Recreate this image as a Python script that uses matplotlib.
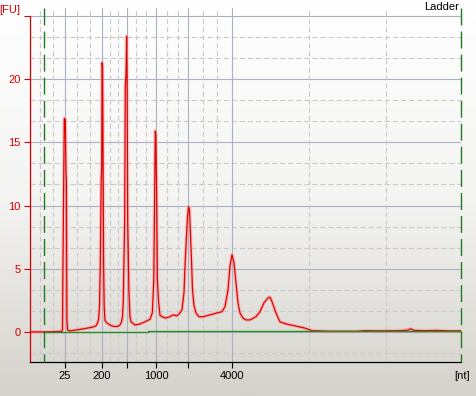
import numpy as np
import matplotlib.pyplot as plt
from matplotlib.colors import LinearSegmentedColormap

plt.rcParams['font.family'] = ['Liberation Sans', 'DejaVu Sans']
plt.rcParams['font.size'] = 8
plt.rcParams['lines.scale_dashes'] = False

# Electropherogram trace: migration time (s) vs fluorescence (FU)
time_s = [19.000, 20.680, 21.955, 22.766, 22.824, 22.882, 23.032, 23.148, 23.229, 23.276,
          23.334, 23.415, 23.693, 24.388, 25.199, 26.242, 26.705, 26.879, 27.006, 27.111,
          27.204, 27.308, 27.366, 27.412, 27.470, 27.540, 27.586, 27.656, 27.748, 27.980,
          28.524, 28.907, 29.254, 29.486, 29.660, 29.776, 29.869, 30.031, 30.100, 30.181,
          30.251, 30.309, 30.378, 30.517, 30.645, 30.761, 31.224, 31.803, 32.383, 32.962,
          33.229, 33.402, 33.507, 33.576, 33.634, 33.727, 33.820, 33.947, 34.121, 34.700,
          35.280, 35.627, 36.091, 36.438, 36.670, 36.902, 37.017, 37.191, 37.307, 37.423,
          37.539, 37.655, 37.771, 37.887, 38.061, 38.292, 38.640, 39.104, 39.915, 40.726,
          41.305, 41.653, 41.999, 42.231, 42.463, 42.695, 42.926, 43.158, 43.390, 43.737,
          44.085, 44.548, 45.243, 45.707, 46.170, 46.634, 46.865, 47.097, 47.560, 48.024,
          48.719, 49.762, 50.920, 51.732, 53.817, 57.062, 57.873, 59.611, 61.928, 62.855,
          63.203, 63.550, 64.825, 66.215, 67.721, 69.000]
signal_fu = [0.0, 0.0, 0.02, 0.05, 0.2, 5.7, 16.9, 16.8, 12.6, 12.0,
             1.0, 0.15, 0.08, 0.15, 0.24, 0.37, 0.48, 0.7, 1.0, 2.0,
             5.3, 12.1, 13.0, 21.3, 21.0, 12.0, 5.3, 2.0, 0.9, 0.7,
             0.48, 0.42, 0.45, 0.55, 0.8, 1.2, 2.5, 9.0, 19.5, 20.3,
             23.4, 20.0, 8.9, 3.3, 1.2, 0.8, 0.55, 0.63, 0.8, 1.0,
             1.5, 4.1, 11.4, 15.9, 15.6, 11.4, 4.1, 2.5, 1.3, 1.1,
             1.2, 1.35, 1.27, 1.5, 1.75, 3.1, 5.2, 7.6, 9.1, 9.9,
             9.7, 7.7, 5.7, 3.3, 2.1, 1.5, 1.2, 1.2, 1.35, 1.5,
             1.6, 2.0, 3.3, 5.2, 6.1, 5.5, 3.9, 2.3, 1.5, 1.1,
             0.95, 0.95, 1.2, 1.6, 2.3, 2.7, 2.75, 2.4, 1.5, 0.8,
             0.63, 0.48, 0.3, 0.1, 0.05, 0.05, 0.1, 0.08, 0.1, 0.15,
             0.25, 0.12, 0.1, 0.12, 0.08, 0.08]

# baseline and start/end markers
baseline_time_s = [20.68, 32.73, 32.73, 69.0]
baseline_fu = [0.0, 0.0, 0.08, 0.08]
marker_time_s = [20.68, 69.0]

# ladder peaks used as x ticks
ladder_time_s = [23.11, 27.40, 30.24, 33.66, 37.42, 42.46]
ladder_labels = ['25', '200', '', '1000', '', '4000']
tail_grid_step_s = 8.9

y_ticks = [0, 5, 10, 15, 20, 25]
y_labels = ['0', '5', '10', '15', '20', '']

xlim = (19.0, 69.0)
ylim = (-2.38, 25.63)

red = '#d80000'
grid_major = '#a9b2be'
grid_minor = '#c9c9c9'

fig = plt.figure(figsize=(4.76, 3.96), dpi=100)

# background gradient over the whole figure
bg = fig.add_axes([0, 0, 1, 1], zorder=-10)
cmap = LinearSegmentedColormap.from_list('bg', ['#ffffff', '#f4f4f3', '#d5d2cb'])
bg.imshow(np.linspace(0, 1, 256)[:, None], cmap=cmap, aspect='auto', extent=[0, 1, 0, 1])
bg.axis('off')

ax = fig.add_axes([29.5 / 476, 34 / 396, 431.5 / 476, 354 / 396])
ax.set_facecolor('none')
ax.set_xlim(*xlim)
ax.set_ylim(*ylim)

# grid: solid at ticks, dashed at thirds
for y in y_ticks:
    ax.axhline(y, color=grid_major, lw=0.8, zorder=1)
minor_y = [a + (b - a) * k / 3 for a, b in zip(y_ticks[:-1], y_ticks[1:]) for k in (1, 2)]
minor_y.append(-5 / 3)
for y in minor_y:
    ax.axhline(y, color=grid_minor, lw=0.8, dashes=(3.6, 2.2), zorder=1)

for x in ladder_time_s:
    ax.axvline(x, color=grid_major, lw=0.8, zorder=1)
minor_x = [a + (b - a) * k / 3 for a, b in zip(ladder_time_s[:-1], ladder_time_s[1:]) for k in (1, 2)]
first_step = ladder_time_s[1] - ladder_time_s[0]
minor_x += [ladder_time_s[0] - first_step * k / 3 for k in (1, 2)]
minor_x += [ladder_time_s[-1] + tail_grid_step_s * k for k in (1, 2)]
for x in minor_x:
    ax.axvline(x, color=grid_minor, lw=0.8, dashes=(3.6, 2.2), zorder=1)

# trace with soft glow
ax.plot(time_s, signal_fu, color='#ff8c8c', lw=2.6, alpha=0.45, zorder=2, solid_joinstyle='round')
ax.plot(time_s, signal_fu, color='#e00000', lw=0.9, zorder=3)
ax.plot(baseline_time_s, baseline_fu, color='#2a8a2a', lw=1.0, zorder=4)

for t in marker_time_s:
    ax.plot([t, t], [ylim[1], ylim[0]], color='#1e7b1e', lw=1.0, dashes=(12.2, 4.4),
            clip_on=False, zorder=5)

# axes styling
ax.spines['top'].set_visible(False)
ax.spines['right'].set_visible(False)
ax.spines['left'].set_color(red)
ax.spines['left'].set_bounds(ylim[0], 25)
ax.spines['bottom'].set_color('black')
for s in ('left', 'bottom'):
    ax.spines[s].set_linewidth(0.9)

ax.set_xticks(ladder_time_s, ladder_labels)
ax.set_yticks(y_ticks, y_labels)
ax.tick_params(axis='x', direction='out', length=4.3, width=0.8, colors='black', pad=2.5)
ax.tick_params(axis='y', direction='out', length=4.3, width=0.8, color=red, labelcolor=red, pad=2)

ax.annotate('[FU]', xy=(0, 25), xycoords=('axes fraction', 'data'), xytext=(-6.5, 4.3),
            textcoords='offset points', ha='right', va='center', color=red)
ax.annotate('[nt]', xy=(1, 0), xycoords='axes fraction', xytext=(0.5, -10.4),
            textcoords='offset points', ha='center', va='center', color='black')
fig.text(459 / 476, 1 - 7.5 / 396, 'Ladder', ha='right', va='center', color='black')

fig.savefig('out.png', dpi=100)
